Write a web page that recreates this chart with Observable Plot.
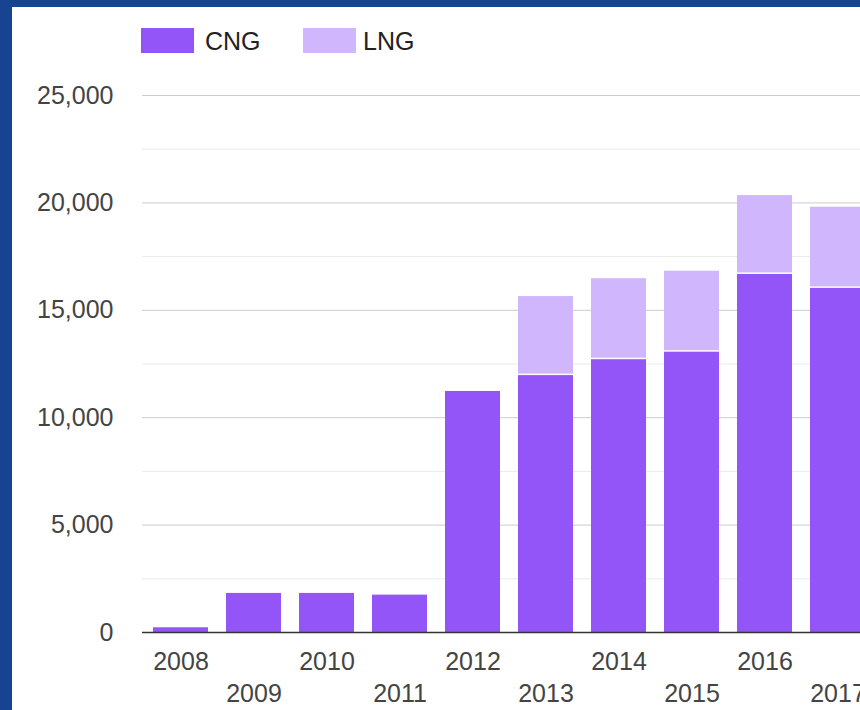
<!DOCTYPE html>
<html>
<head>
<meta charset="utf-8">
<script src="https://cdn.jsdelivr.net/npm/d3@7"></script>
<script src="https://cdn.jsdelivr.net/npm/@observablehq/plot@0.6"></script>
<style>
  html, body { margin: 0; padding: 0; width: 860px; height: 710px; overflow: hidden; background: #174491; }
  #panel { position: absolute; left: 12px; top: 7px; width: 900px; height: 720px; background: #ffffff; }
  #chart { position: absolute; left: 0; top: 0; width: 900px; height: 710px; }
  #chart svg { max-width: none !important; }
  .legend { position: absolute; font-family: "Liberation Sans", Arial, sans-serif; font-size: 25px; line-height: 25px; color: #222; }
  .sw { position: absolute; width: 53px; height: 25px; }
</style>
</head>
<body>
<div id="panel"></div>
<div id="legend"></div>
<div id="chart"></div>
<script>
const years = [2008, 2009, 2010, 2011, 2012, 2013, 2014, 2015, 2016, 2017];
const cng   = [220, 1820, 1820, 1740, 11220, 11960, 12700, 13050, 16670, 16020];
const lng   = [0, 0, 0, 0, 0, 3680, 3770, 3770, 3670, 3780];
const seriesNames = ["CNG", "LNG"];
const seriesColors = ["#9355f8", "#d0b6fc"];
const yTicks = [0, 5000, 10000, 15000, 20000, 25000];
const yMinor = [2500, 7500, 12500, 17500, 22500];
const evenYears = years.filter((d, i) => i % 2 === 0);
const oddYears = years.filter((d, i) => i % 2 === 1);

const rows = years.map((year, i) => ({year, cng: cng[i], lng: lng[i], total: cng[i] + lng[i]}));

// legend
const legend = document.getElementById("legend");
const legendX = [[141, 205], [303, 363]];
seriesNames.forEach((name, i) => {
  const sw = document.createElement("div");
  sw.className = "sw";
  sw.style.left = legendX[i][0] + "px";
  sw.style.top = "28px";
  sw.style.background = seriesColors[i];
  legend.appendChild(sw);
  const t = document.createElement("div");
  t.className = "legend";
  t.style.left = legendX[i][1] + "px";
  t.style.top = "29px";
  t.textContent = name;
  legend.appendChild(t);
});

const chart = Plot.plot({
  width: 900,
  height: 710,
  marginLeft: 142,
  marginRight: 25,
  marginTop: 95,
  marginBottom: 78,
  style: { background: "transparent", fontFamily: "'Liberation Sans', Arial, sans-serif", fontSize: "25px", color: "#444", maxWidth: "none" },
  x: { type: "band", domain: years, paddingInner: 0.25, paddingOuter: 0.125, axis: null, label: null },
  y: { domain: [0, 25000], axis: null, label: null },
  marks: [
    Plot.ruleY(yMinor, { stroke: "#ebebeb", strokeWidth: 1 }),
    Plot.ruleY(yTicks.filter(d => d > 0), { stroke: "#cccccc", strokeWidth: 1 }),
    Plot.barY(rows, { x: "year", y1: 0, y2: "cng", fill: seriesColors[0] }),
    Plot.barY(rows.filter(d => d.lng > 0), { x: "year", y1: "cng", y2: "total", fill: seriesColors[1], insetBottom: 1.5 }),
    Plot.ruleY([0], { stroke: "#333333", strokeWidth: 1.5 }),
    Plot.axisY({ ticks: yTicks, tickSize: 0, tickPadding: 29, tickFormat: d3.format(","), fontSize: 25, fill: "#444", label: null }),
    Plot.axisX({ ticks: evenYears, tickSize: 0, tickPadding: 20, tickFormat: d => String(d), fontSize: 25, fill: "#444", label: null }),
    Plot.axisX({ ticks: oddYears, tickSize: 0, tickPadding: 52, tickFormat: d => String(d), fontSize: 25, fill: "#444", label: null })
  ]
});
document.getElementById("chart").appendChild(chart);
</script>
</body>
</html>
